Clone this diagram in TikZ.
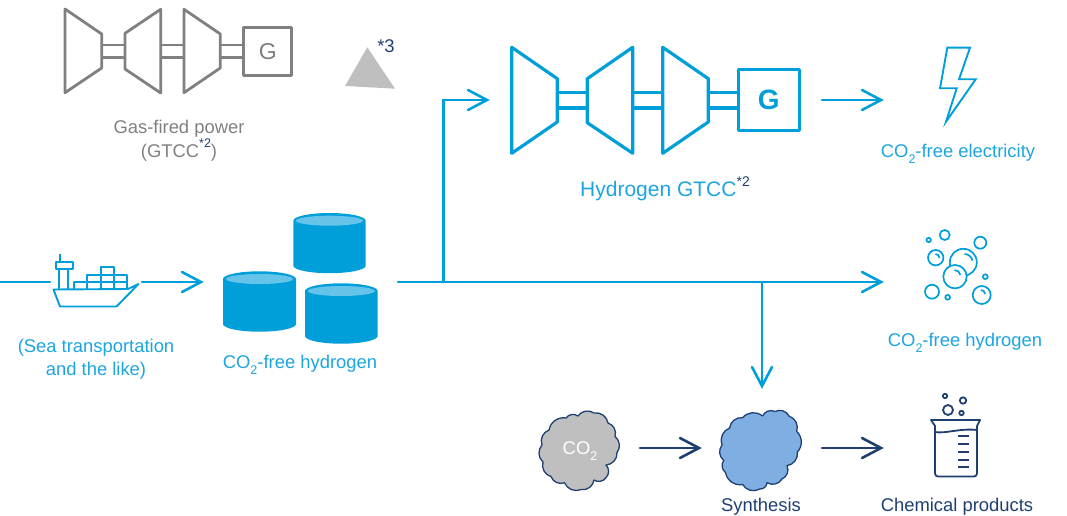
\documentclass[tikz,border=0pt]{standalone}
\usepackage{fontspec}
\setmainfont{Liberation Sans}
\definecolor{cy}{HTML}{009FDA}
\definecolor{cyt}{HTML}{1CA5DF}
\definecolor{cyl}{HTML}{66C3EA}
\definecolor{gr}{HTML}{808080}
\definecolor{grl}{HTML}{BFBFBF}
\definecolor{nv}{HTML}{1F3F73}
\definecolor{cb}{HTML}{7FAEE3}
\newcommand{\COtwo}{CO\raisebox{-.3em}{\fontsize{12.5}{13}\selectfont 2}}
\newcommand{\supn}[1]{\raisebox{.5em}{\fontsize{12.5}{13}\selectfont\textcolor{nv}{#1}}}
\tikzset{
 x=1pt,y=-1pt,
 txt/.style={inner sep=0pt,font=\fontsize{18.4}{21}\selectfont,align=center},
 cyt text/.style={txt,text=cyt},
 slot/.style={inner sep=0pt,outer sep=0pt,rectangle},
 arr/.style={line width=2.6pt,line cap=round,line join=miter},
 harrow/.pic={\draw[line width=2.6pt,line cap=round,line join=miter,pic actions] (-19,-10)--(0,0)--(-19,10);},
 gturb/.style={line width=2.8pt,draw=gr,line join=round},
 cturb/.style={line width=3.2pt,draw=cy,line join=round},
 ship/.style={line width=1.9pt,draw=cy,line join=round},
 bub/.style={line width=1.7pt,draw=cy},
 beak/.style={line width=1.8pt,draw=nv,line join=round},
 pf/.style={bend left=45},
 puff/.style={line width=1.3pt,draw=nv,line join=round},
}
\begin{document}
\begin{tikzpicture}
\useasboundingbox (0,0) rectangle (1067,516);
% grey turbine
\draw[gturb] (65,9)--(101.7,34)--(101.7,68)--(65,92.7)--cycle;
\draw[gturb] (125,33.3)--(160.7,9.3)--(160.7,93)--(125,69)--cycle;
\draw[gturb] (184,9.3)--(220.3,34)--(220.3,68)--(184,92.7)--cycle;
\draw[gturb] (101.7,45)--(125,45) (101.7,57.3)--(125,57.3) (160.7,45)--(184,45) (160.7,57.3)--(184,57.3) (220.3,45)--(243.7,45) (220.3,57.3)--(243.7,57.3);
\node[slot,gturb,minimum width=48pt,minimum height=48pt,txt,text=gr,font=\fontsize{23}{26}\selectfont] (gg) at (267.7,51.3) {G};
\node[txt,text=gr] (gaslabel) at (179,129) {Gas-fired power};
\node[txt,text=gr] (gaslabelb) at (179,150) {(GTCC\supn{*2})};
\fill[grl] (367.3,47.3)--(345,86)--(395,88.7)--cycle;
\node[txt,text=nv,font=\fontsize{18.4}{20}\selectfont] (star) at (386,46) {*3};
% blue turbine
\draw[cturb] (511.7,47.3)--(557.3,78.7)--(557.3,122)--(511.7,153.3)--cycle;
\draw[cturb] (587.3,78.7)--(632.7,47.3)--(632.7,153.3)--(587.3,122.7)--cycle;
\draw[cturb] (662.7,47.3)--(708.3,78.7)--(708.3,122)--(662.7,153.3)--cycle;
\draw[cturb] (557.3,92.3)--(587.3,92.3) (557.3,108)--(587.3,108) (632.7,92.3)--(662.7,92.3) (632.7,108)--(662.7,108) (708.3,92.3)--(738.3,92.3) (708.3,108)--(738.3,108);
\node[slot,cturb,minimum width=61pt,minimum height=61pt,txt,text=cy,font=\fontsize{28}{30}\selectfont\bfseries] (bg) at (768.8,100.3) {G};
\node[cyt text,font=\fontsize{21}{24}\selectfont] (gtcclabel) at (665,189) {Hydrogen GTCC\raisebox{.5em}{\fontsize{14}{15}\selectfont\textcolor{nv}{*2}}};
% invisible slots that the connectors join
\node[slot,minimum width=335pt,minimum height=10pt] (gtcc) at (654.5,100) {};
\node[slot,minimum width=92pt,minimum height=10pt] (shipslot) at (96,282) {};
\node[slot,minimum width=197pt,minimum height=10pt] (tanks) at (299.5,282) {};
\node[slot,minimum width=100pt,minimum height=10pt,anchor=west] (elec) at (881,100) {};
\node[slot,minimum width=100pt,minimum height=10pt,anchor=west] (hyd) at (881,282) {};
\node[slot,minimum width=123pt,minimum height=124pt] (syn) at (760.5,448) {};
\node[slot,minimum width=60pt,minimum height=40pt,anchor=east] (co) at (640,448) {};
\node[slot,minimum width=100pt,minimum height=40pt,anchor=west] (chem) at (881,448) {};
\coordinate (src) at (0,282);
\coordinate (ja) at (443.3,282);
\coordinate (jb) at (762,282);
% connectors
\draw[arr,cy] (src)--(shipslot.west);
\draw[arr,cy] (shipslot.east)--(tanks.west); \pic[cy] at (tanks.west) {harrow};
\draw[arr,cy] (tanks.east)--(hyd.west); \pic[cy] at (hyd.west) {harrow};
\draw[arr,cy] (ja)|-(gtcc.west); \pic[cy] at (gtcc.west) {harrow};
\draw[arr,cy] (gtcc.east)--(elec.west); \pic[cy] at (elec.west) {harrow};
\draw[arr,cy] (jb)--(jb|-syn.north); \pic[cy,rotate=-90] at (jb|-syn.north) {harrow};
\draw[arr,nv] (co.east)--(syn.west); \pic[nv] at (syn.west) {harrow};
\draw[arr,nv] (syn.east)--(chem.west); \pic[nv] at (chem.west) {harrow};
% ship
\draw[ship] (53.5,289.5)--(128,289)--(138.5,284)--(116.5,306.5)--(60,306.5)--cycle;
\draw[ship] (74,289.3)--(74,282.3)--(126.7,282.3) (87.3,289.3)--(87.3,274.7)--(126.7,274.7)--(126.7,289) (100.7,289.3)--(100.7,266.7)--(114,266.7)--(114,289.3) (100.7,274.7)--(114,274.7);
\draw[ship] (60,254)--(60,262) (56,262.3)--(73.3,262.3)--(73.3,269)--(56,269)--cycle (59.3,269)--(59.3,289) (68.3,269)--(68.3,289);
\node[cyt text] (sealabel) at (96,348) {(Sea transportation};
\node[cyt text] (sealabelb) at (96,371) {and the like)};
% tanks
\fill[cy] (293.3,220.7) arc[start angle=180,end angle=0,x radius=36.2pt,y radius=7.7pt]--(365.7,265.7) arc[start angle=0,end angle=-180,x radius=36.2pt,y radius=7.5pt]--cycle;
\fill[cyl] (329.5,220.7) ellipse[x radius=33.5pt,y radius=5pt];
\fill[cy] (223,279) arc[start angle=180,end angle=0,x radius=36.5pt,y radius=7.7pt]--(296,324) arc[start angle=0,end angle=-180,x radius=36.5pt,y radius=7.7pt]--cycle;
\fill[cyl] (259.5,279) ellipse[x radius=33.5pt,y radius=5pt];
\fill[cy] (305,291) arc[start angle=180,end angle=0,x radius=36.35pt,y radius=7.7pt]--(377.7,336) arc[start angle=0,end angle=-180,x radius=36.35pt,y radius=7.7pt]--cycle;
\fill[cyl] (341.35,291) ellipse[x radius=33.5pt,y radius=5pt];
\node[cyt text] (tanklabel) at (300,365) {\COtwo-free hydrogen};
% bolt
\draw[line width=1.9pt,draw=cy,line join=miter] (947.3,47.7)--(970,47.7)--(959,79.3)--(975.7,79.3)--(946,121.7)--(956.7,88.3)--(940,88.3)--cycle;
\node[cyt text] (eleclabel) at (958,154) {\COtwo-free electricity};
% bubbles
\foreach \cx/\cy/\r in {944.7/235/5,928.7/240/2.2,980.3/242.7/6,935.7/257.7/7.7,985.3/276.7/2.4,932/291.7/7,947.7/297.3/2.4,981.7/295/9}
  \draw[bub] (\cx,\cy) circle[radius=\r pt];
\draw[bub] (963.3,262.3) circle[radius=13.5pt];
\draw[bub,fill=white] (955,276.7) circle[radius=11.7pt];
\draw[bub] (964.5,254) arc[start angle=90,end angle=10,radius=8pt];
\draw[bub] (954.5,270) arc[start angle=90,end angle=10,radius=6pt];
\draw[bub] (935.5,254) arc[start angle=90,end angle=0,radius=4pt];
\draw[bub] (981,290) arc[start angle=90,end angle=0,radius=4pt];
\node[cyt text] (hydlabel) at (965,343) {\COtwo-free hydrogen};
% clouds
\draw[puff,fill=grl] (549,430) to[pf] (566,418) to[pf] (578,416) to[pf] (594,413) to[pf] (608,423) to[pf] (615,436.5) to[pf] (617,452.6) to[pf] (606,465) to[pf] (606,477.6) to[pf] (594,480) to[pf] (581,489.6) to[pf] (564.5,482.7) to[pf] (551,476.6) to[pf] (543,462) to[pf] (542,445) to[pf] (549,430)--cycle;
\node[txt,text=white] (colabel) at (580,451) {\COtwo};
\draw[puff,fill=cb] (729.6,428) to[pf] (742.6,417.7) to[pf] (762.5,416) to[pf] (775,411.5) to[pf] (789,416) to[pf] (796.7,431.4) to[pf] (797.4,452) to[pf] (787,465.6) to[pf] (782,479) to[pf] (767,482.7) to[pf] (759.7,489) to[pf] (742.6,484.5) to[pf] (725.5,472.5) to[pf] (723.8,460.5) to[pf] (722,445) to[pf] (729.6,428)--cycle;
\node[txt,text=nv] (synlabel) at (761,506.5) {Synthesis};
% beaker
\draw[beak] (931,420)--(980,420)--(977,426)--(977,473.5) arc[start angle=0,end angle=-90,radius=3pt]--(938,476.5) arc[start angle=270,end angle=180,radius=3pt]--(935,426)--cycle;
\draw[beak] (935,432) .. controls (945,434) and (960,428) .. (977,430);
\foreach \yy in {436,444,452,460,467} \draw[beak] (958,\yy)--(969,\yy);
\foreach \cx/\cy/\r in {948/410/5,945/396/2.2,963/400.5/3.2,961.5/413/2.2}
  \draw[beak] (\cx,\cy) circle[radius=\r pt];
\node[txt,text=nv] (chemlabel) at (957,506.5) {Chemical products};
\end{tikzpicture}
\end{document}
